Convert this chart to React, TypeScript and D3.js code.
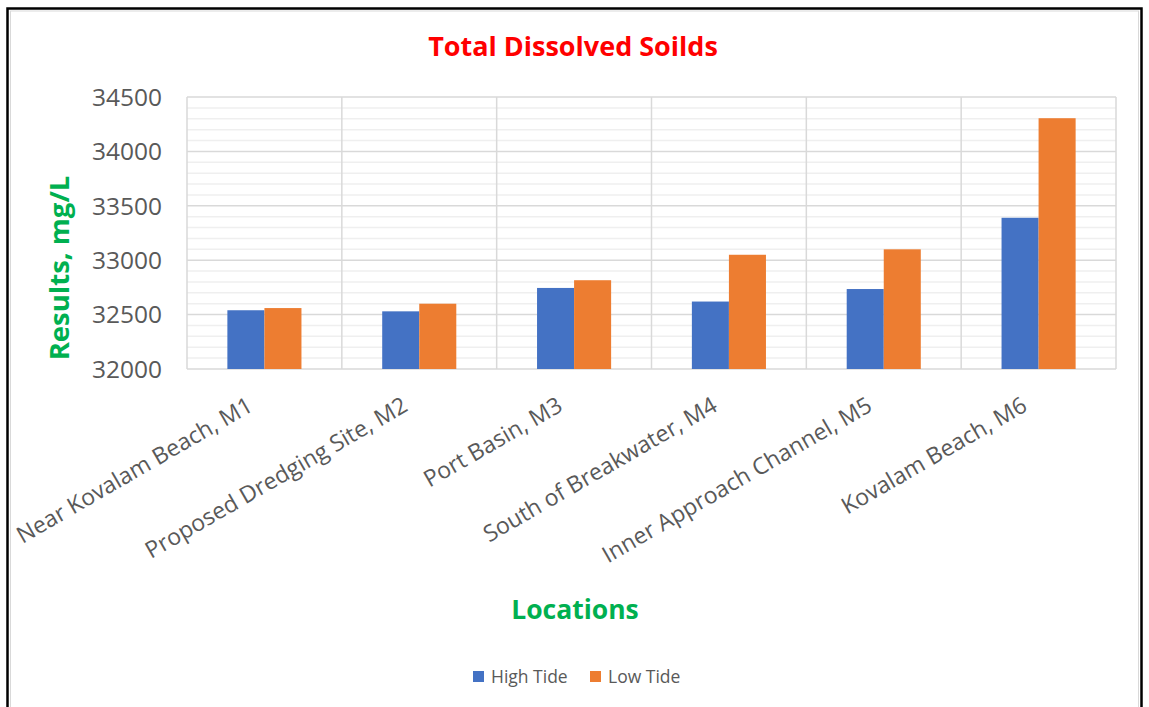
import React from "react";
import * as d3 from "d3";

const categories = [
  "Near Kovalam Beach, M1",
  "Proposed Dredging Site, M2",
  "Port Basin, M3",
  "South of Breakwater, M4",
  "Inner Approach Channel, M5",
  "Kovalam Beach, M6",
];
const seriesNames = ["High Tide", "Low Tide"];
const highTide = [32540, 32530, 32745, 32620, 32735, 33390];
const lowTide = [32560, 32600, 32816, 33050, 33100, 34305];
const yTicks = [32000, 32500, 33000, 33500, 34000, 34500];
const seriesColors = ["#4472C4", "#ED7D31"];

const W = 1149;
const H = 707;
const plot = { left: 187, right: 1116, top: 97, bottom: 369 };
const font = "'Open Sans', 'Noto Sans', sans-serif";

export default function App() {
  const x = d3.scaleBand<string>().domain(categories).range([plot.left, plot.right]).paddingInner(0).paddingOuter(0);
  const xs = d3.scaleBand<string>().domain(seriesNames).range([0, x.bandwidth()]).paddingInner(0).paddingOuter(1.09);
  const y = d3.scaleLinear().domain([32000, 34500]).range([plot.bottom, plot.top]);
  const minorTicks = d3.range(32000, 34500 + 1, 100).filter((v) => v % 500 !== 0);
  const values = [highTide, lowTide];

  return (
    <svg width={W} height={H} style={{ position: "absolute", left: 0, top: 0, display: "block", background: "#fff" }}>
      <rect x={0} y={0} width={W} height={H} fill="#fff" />
      {/* outer frame */}
      <rect x={7.5} y={8.5} width={1134} height={720} fill="none" stroke="#000" strokeWidth={2.5} />
      <rect x={10.5} y={11} width={1128} height={720} fill="none" stroke="#d9d9d9" strokeWidth={1} />

      {/* minor gridlines */}
      {minorTicks.map((v) => (
        <line key={"mn" + v} x1={plot.left} x2={plot.right} y1={y(v)} y2={y(v)} stroke="#efefef" strokeWidth={1.5} />
      ))}
      {/* major gridlines */}
      {yTicks.map((v) => (
        <line key={"mj" + v} x1={plot.left} x2={plot.right} y1={y(v)} y2={y(v)} stroke="#d9d9d9" strokeWidth={1.5} />
      ))}
      {/* vertical category gridlines */}
      {categories.map((c, i) => (
        <line key={"vg" + i} x1={x(c)!} x2={x(c)!} y1={plot.top} y2={plot.bottom} stroke="#d9d9d9" strokeWidth={1.5} />
      ))}
      <line x1={plot.right} x2={plot.right} y1={plot.top} y2={plot.bottom} stroke="#d9d9d9" strokeWidth={1.5} />

      {/* bars */}
      {categories.map((c, i) =>
        seriesNames.map((s, j) => (
          <rect
            key={c + s}
            x={x(c)! + xs(s)!}
            y={y(values[j][i])}
            width={xs.bandwidth()}
            height={y(32000) - y(values[j][i])}
            fill={seriesColors[j]}
          />
        ))
      )}

      {/* y tick labels */}
      {yTicks.map((v) => (
        <text key={"yt" + v} x={162} y={y(v)} dy="0.36em" textAnchor="end" fontFamily={font} fontSize={24.5} fill="#595959">
          {v}
        </text>
      ))}

      {/* x tick labels */}
      {categories.map((c) => {
        const cx = x(c)! + x.bandwidth() / 2 - 10;
        const cy = 410;
        return (
          <text
            key={"xl" + c}
            transform={`translate(${cx},${cy}) rotate(-30)`}
            textAnchor="end"
            fontFamily={font}
            fontSize={23}
            fill="#595959"
          >
            {c}
          </text>
        );
      })}

      {/* title */}
      <text x={573} y={56} textAnchor="middle" fontFamily={font} fontWeight="bold" fontSize={27} fill="#FF0000">
        Total Dissolved Soilds
      </text>

      {/* axis titles */}
      <text transform="translate(69,268) rotate(-90)" textAnchor="middle" fontFamily={font} fontWeight="bold" fontSize={27.5} fill="#00B050">
        Results, mg/L
      </text>
      <text x={575} y={619} textAnchor="middle" fontFamily={font} fontWeight="bold" fontSize={26.5} fill="#00B050">
        Locations
      </text>

      {/* legend */}
      {seriesNames.map((s, j) => {
        const lx = [473, 590][j];
        return (
          <g key={"lg" + s}>
            <rect x={lx} y={671} width={11} height={11} fill={seriesColors[j]} />
            <text x={lx + 18} y={683} fontFamily={font} fontSize={17.5} fill="#595959">
              {s}
            </text>
          </g>
        );
      })}
    </svg>
  );
}
